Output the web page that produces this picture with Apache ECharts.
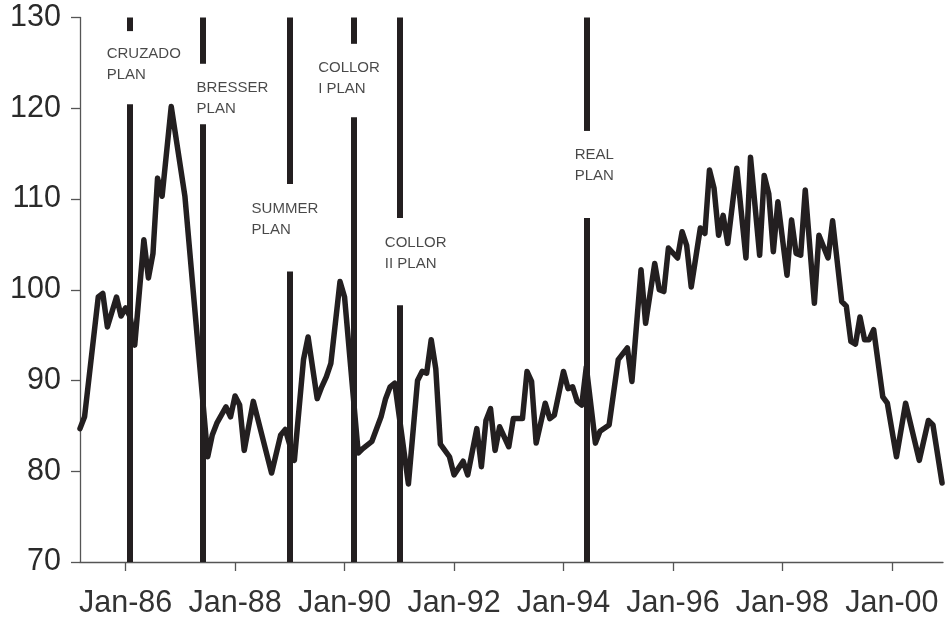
<!DOCTYPE html>
<html>
<head>
<meta charset="utf-8">
<script src="https://cdn.jsdelivr.net/npm/echarts@6/dist/echarts.min.js"></script>
<style>
html,body{margin:0;padding:0;background:#fff;}
#chart{width:947px;height:618px;}
</style>
</head>
<body>
<div id="chart"></div>
<script>
// Month index counted from Jan-1985 (0 = Jan-85)
const months = [2,3,6,7,8,10,11,12,13,14,16,17,18,19,20,22,25,30,31,32,34,35,36,37,38,40,44,46,47,49,51,52,54,55,56,57,59,60,63,64,66,68,69,70,71,74,76,77,78,79,80,81,83,84,86,87,89,90,91,92,93,94,96,97,99,100,101,102,104,105,106,108,109,110,111,112,113,115,116,118,120,122,123,125,126,128,129,130,131,133,134,135,136,138,139,140,141,142,143,144,146,148,149,151,152,153,154,155,157,158,159,160,161,163,164,166,167,169,170,171,172,173,174,175,176,178,179,181,183,186,188,189,191];
const values = [84.7,86.0,99.2,99.6,95.9,99.2,97.1,98.0,97.0,93.9,105.5,101.3,104.0,112.3,110.3,120.2,110.3,81.6,84.0,85.3,87.1,86.0,88.3,87.3,82.3,87.7,79.8,84.0,84.6,81.2,92.3,94.8,88.0,89.3,90.4,91.9,100.9,99.2,82.0,82.5,83.3,86.0,88.0,89.3,89.7,78.6,90.0,91.0,90.8,94.5,91.3,83.0,81.6,79.6,81.1,79.6,84.7,80.5,85.6,86.9,82.3,84.9,82.7,85.8,85.8,91.0,89.9,83.1,87.5,85.8,86.2,91.0,89.1,89.3,87.7,87.3,91.5,83.1,84.4,85.1,92.3,93.6,89.9,102.2,96.3,102.9,100.0,99.8,104.6,103.5,106.4,104.9,100.3,106.8,106.2,113.2,111.2,106.0,108.2,105.1,113.4,103.5,114.6,103.8,112.6,110.6,104.2,109.7,101.6,107.7,104.0,103.8,111.0,98.5,106.0,103.5,107.6,98.7,98.2,94.3,94.0,97.0,94.5,94.5,95.6,88.2,87.5,81.6,87.5,81.2,85.6,85.1,78.7];

const tickMonths = [12,36,60,84,108,132,156,180];
const tickLabels = ['Jan-86','Jan-88','Jan-90','Jan-92','Jan-94','Jan-96','Jan-98','Jan-00'];

// Stabilisation plans
const planNames = ['CRUZADO\nPLAN','BRESSER\nPLAN','SUMMER\nPLAN','COLLOR\nI PLAN','COLLOR\nII PLAN','REAL\nPLAN'];
const planMonths = [13,29,48,62,72,113];
// the vertical line is interrupted between these two values (label gap)
const planGapTop = [128.5,124.9,111.65,127.1,107.9,117.5];
const planGapBottom = [120.45,118.25,102.0,119.0,98.3,107.9];
// label anchor (left edge month, vertical centre value)
const planLabelMonth = [7.84,27.56,39.61,54.21,68.83,110.46];
const planLabelValue = [124.8,121.1,107.8,123.25,104.05,113.7];

const yMin = 70, yMax = 130;
const ink = '#231f20';
const font = "'Liberation Sans', Arial, Helvetica, sans-serif";

const seriesData = months.map((m,i)=>[m, values[i]]);
const markLines = [];
planMonths.forEach((m,i)=>{
  markLines.push([{coord:[m,yMax]},{coord:[m,planGapTop[i]]}]);
  markLines.push([{coord:[m,planGapBottom[i]]},{coord:[m,yMin]}]);
});

const chart = echarts.init(document.getElementById('chart'), null, {renderer:'canvas'});
chart.setOption({
  animation:false,
  backgroundColor:'#fff',
  grid:{left:80,right:4,top:17.5,bottom:56,containLabel:false,outerBoundsMode:'none'},
  xAxis:{
    type:'value', min:2, max:191.2,
    axisLine:{show:true,onZero:false,lineStyle:{color:'#555',width:1.3}},
    axisTick:{show:true,inside:false,length:9,customValues:tickMonths,lineStyle:{color:'#555',width:1.3}},
    axisLabel:{show:true,customValues:tickMonths,margin:26,fontSize:30.5,color:'#333',fontFamily:font,
      formatter:v=>{const k=tickMonths.indexOf(Math.round(v));return k>=0?tickLabels[k]:'';}},
    splitLine:{show:false}
  },
  yAxis:{
    type:'value', min:yMin, max:yMax, interval:10,
    axisLine:{show:true,lineStyle:{color:'#555',width:1.3}},
    axisTick:{show:true,inside:false,length:9,lineStyle:{color:'#555',width:1.3}},
    axisLabel:{margin:19,fontSize:30.5,color:'#2a2a2a',fontFamily:font},
    splitLine:{show:false}
  },
  series:[
    {
      type:'line', data:seriesData, symbol:'none', smooth:false,
      lineStyle:{color:ink,width:5.5,join:'round',cap:'round'},
      z:2,
      markLine:{
        silent:true, symbol:['none','none'], animation:false,
        label:{show:false},
        lineStyle:{color:ink,width:6,type:'solid'},
        emphasis:{disabled:true},
        data:markLines
      }
    },
    {
      type:'scatter', symbolSize:0, silent:true, z:5,
      data:planLabelMonth.map((m,i)=>({value:[m,planLabelValue[i]],name:planNames[i]})),
      label:{show:true,position:[0,0],align:'left',verticalAlign:'middle',
        formatter:p=>p.name,fontSize:15,lineHeight:21,color:'#1a1a1a',fontFamily:font}
    }
  ]
});
</script>
</body>
</html>
